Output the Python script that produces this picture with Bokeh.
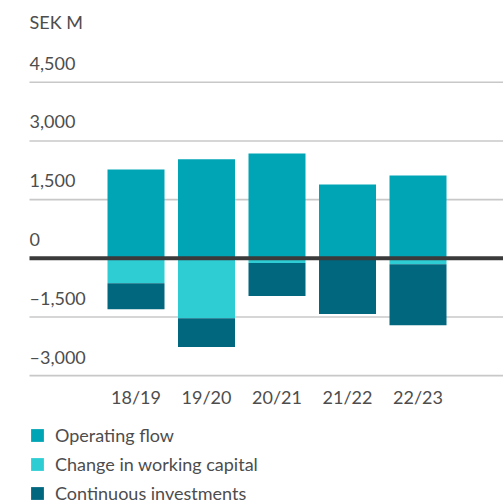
from bokeh.plotting import figure
from bokeh.models import Range1d, ColumnDataSource, Legend, LegendItem
from bokeh.core.properties import value
from bokeh.embed import file_html
from bokeh.resources import INLINE

# ---- data ----
categories = ["18/19", "19/20", "20/21", "21/22", "22/23"]
operating_flow = [2270, 2530, 2680, 1890, 2120]
working_capital = [-640, -1530, -120, 0, -150]
investments = [-660, -735, -845, -1425, -1560]
y_ticks = [-3000, -1500, 1500, 3000, 4500]
y_labels_values = [-3000, -1500, 0, 1500, 3000, 4500]
y_labels_text = ["\u20133,000", "\u20131,500", "0", "1,500", "3,000", "4,500"]
unit_label = "SEK M"
series_names = ["Operating flow", "Change in working capital", "Continuous investments"]

# ---- style ----
C_OF = "#00a5b5"
C_WC = "#2ecdd3"
C_CI = "#00677f"
TXT = "#4d4d4d"
FONT = "Lato"
FS = "18px"

W, H = 503, 502
pitch = 70.5
first_c = 135.5
xs = -first_c / pitch
xe = (W - first_c) / pitch
k = 58.67 / 1500.0
zero_px = 257.8
ye = zero_px / k
ys = -(H - zero_px) / k

idx = list(range(len(categories)))
wc_bottom = list(working_capital)
ci_top = wc_bottom
ci_bottom = [a + b for a, b in zip(working_capital, investments)]

src = ColumnDataSource(dict(x=idx, cat=categories, of=operating_flow,
                            zero=[0] * len(idx), wcb=wc_bottom,
                            cit=ci_top, cib=ci_bottom))

p = figure(width=W, height=H, x_range=Range1d(xs, xe), y_range=Range1d(ys, ye),
           toolbar_location=None, output_backend="svg", min_border=0,
           x_axis_type=None, y_axis_type=None, outline_line_color=None)
p.grid.visible = False
p.background_fill_color = "white"
p.border_fill_color = "white"

# grid lines
gx0 = xs + 29 / pitch
p.segment(x0=[gx0] * len(y_ticks), x1=[xe] * len(y_ticks), y0=y_ticks, y1=y_ticks,
          line_color="#c8c8c8", line_width=1.6)

bw = 57 / pitch
r1 = p.vbar(x="x", width=bw, top="of", bottom="zero", source=src, fill_color=C_OF, line_color=None)
r2 = p.vbar(x="x", width=bw, top="zero", bottom="wcb", source=src, fill_color=C_WC, line_color=None)
r3 = p.vbar(x="x", width=bw, top="cit", bottom="cib", source=src, fill_color=C_CI, line_color=None)

# zero line
p.segment(x0=[gx0], x1=[xe], y0=[0], y1=[0], line_color="#3a3a3a", line_width=4)

# y labels (above gridlines)
ysrc = ColumnDataSource(dict(x=[xs] * len(y_labels_values), y=y_labels_values, t=y_labels_text))
p.text(x="x", y="y", text="t", source=ysrc, x_offset=29, y_offset=-19,
       text_font=value(FONT), text_font_size=FS, text_color=TXT,
       text_baseline="alphabetic", text_align="left")
p.text(x=[xs], y=[4500], text=[unit_label], x_offset=29, y_offset=-60,
       text_font=value(FONT), text_font_size=FS, text_color=TXT,
       text_baseline="alphabetic", text_align="left")

# x labels
p.text(x="x", y=-3000, text="cat", source=src, y_offset=21,
       text_font=value(FONT), text_font_size=FS, text_color=TXT,
       text_baseline="alphabetic", text_align="center")

legend = Legend(items=[LegendItem(label=series_names[0], renderers=[r1]),
                       LegendItem(label=series_names[1], renderers=[r2]),
                       LegendItem(label=series_names[2], renderers=[r3])],
                location=(29, -2), glyph_width=16, glyph_height=16,
                label_standoff=10, spacing=7, padding=0, margin=0,
                border_line_color=None, background_fill_alpha=0,
                label_text_font=FONT, label_text_font_size=FS,
                label_text_color=TXT)
p.add_layout(legend)

open("out.html", "w").write(file_html(p, INLINE))
